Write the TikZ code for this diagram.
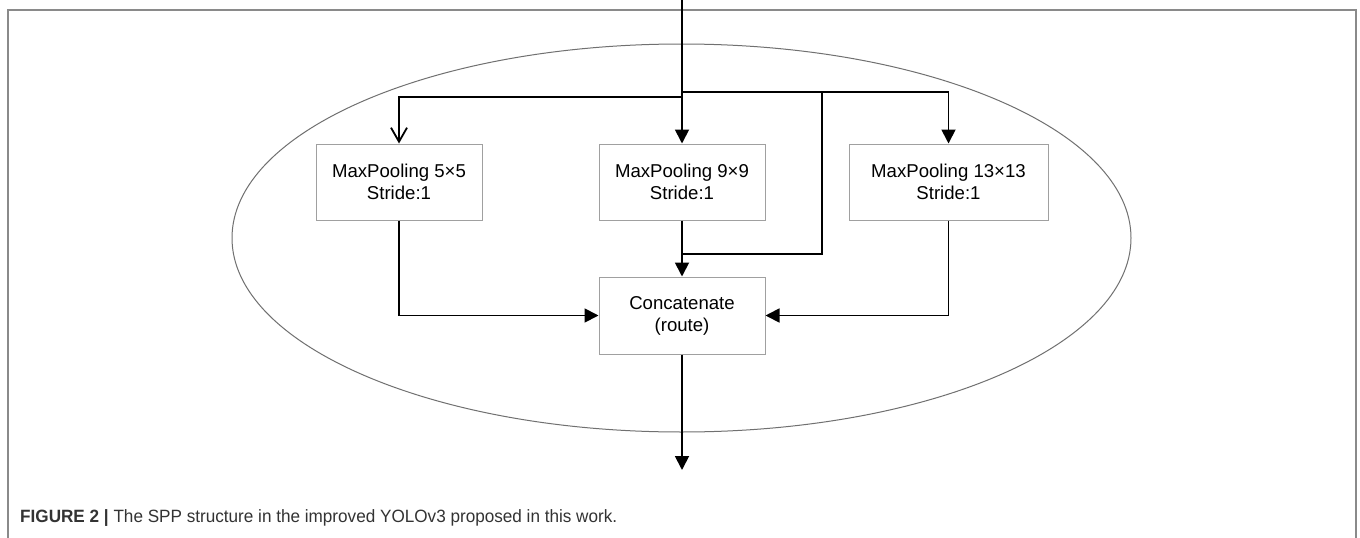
\documentclass[tikz,border=0pt]{standalone}
\usepackage{fontspec}
\setmainfont{Liberation Sans}
\usetikzlibrary{arrows.meta}
\definecolor{framegray}{HTML}{8A8A8A}
\definecolor{boxgray}{HTML}{A0A0A0}
\definecolor{ellgray}{HTML}{707070}
\definecolor{captext}{HTML}{333333}
\begin{document}
\begin{tikzpicture}[x=1pt,y=-1pt,
  box/.style={draw=boxgray, line width=1pt, minimum width=166pt, minimum height=76pt,
    inner sep=0pt, align=center, font=\fontsize{18.6}{22}\selectfont},
  conn/.style={line width=1.8pt, draw=black},
  tri/.style={-{Triangle[length=14pt,width=14pt]}},
  vee/.style={-{Straight Barb[length=14pt,width=16pt,line width=1.8pt]}}]
\useasboundingbox (0,0) rectangle (1360,538);
\fill[white] (0,0) rectangle (1360,538);
\draw[framegray, line width=2pt] (8,545) -- (8,10) -- (1356,10) -- (1356,545);
\draw[ellgray, line width=1pt] (681.5,238) ellipse [x radius=449.5pt, y radius=194pt];

\node[box] (b1) at (399,182) {MaxPooling 5×5\\Stride:1};
\node[box] (b2) at (682,182) {MaxPooling 9×9\\Stride:1};
\node[box, minimum width=199pt] (b3) at (948.5,182) {MaxPooling 13×13\\Stride:1};
\node[box, minimum height=77pt] (cc) at (682,315.5) {Concatenate\\(route)};

\coordinate (in) at (682,0);
\coordinate (j1) at (682,97);
\coordinate (j2) at (682,92);
\coordinate (k1) at (822,92);
\coordinate (k2) at (682,254);
\coordinate (out) at (682,470);

\draw[conn, tri] (in) -- (b2.north);
\draw[conn, vee] (j1) -| (b1.north);
\draw[conn, tri] (j2) -| (b3.north);
\draw[conn] (k1) |- (k2);
\draw[conn, tri] (b2.south) -- (cc.north);
\draw[conn, tri] (b1.south) |- (cc.west);
\draw[conn, tri] (b3.south) |- (cc.east);
\draw[conn, tri] (cc.south) -- (out);

\node[anchor=base west, inner sep=0pt, text=captext] (cap) at (20,522)
  {\resizebox{597pt}{\height}{\fontsize{17.8}{20}\selectfont\textbf{FIGURE 2 |} The SPP structure in the improved YOLOv3 proposed in this work.}};
\end{tikzpicture}
\end{document}
